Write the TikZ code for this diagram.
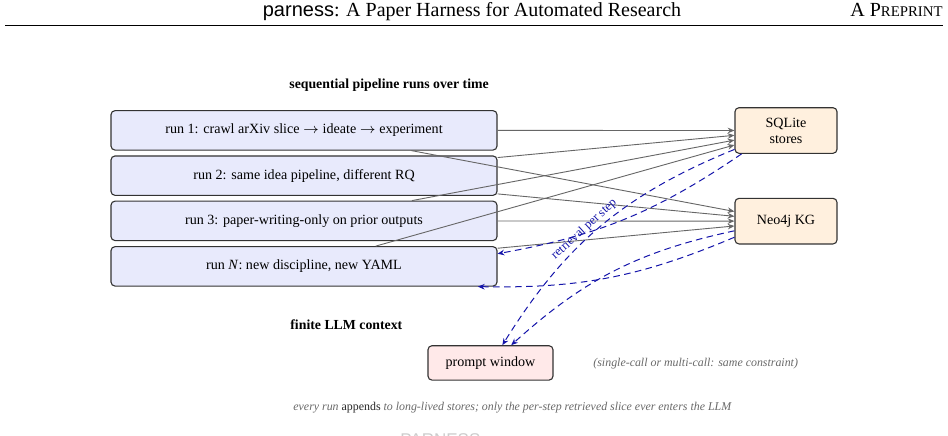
\documentclass[tikz,border=0pt]{standalone}
\usepackage{fontspec}
\setmainfont{Liberation Serif}
\newfontfamily\hsans{Liberation Sans}
\usetikzlibrary{arrows.meta}
\definecolor{runfill}{RGB}{232,234,252}
\definecolor{storefill}{RGB}{255,240,222}
\definecolor{promptfill}{RGB}{255,233,233}
\definecolor{edgeblue}{RGB}{20,20,170}
\definecolor{notegray}{RGB}{105,105,105}
\tikzset{
  boxbase/.style={draw=black!80, rounded corners=2pt, line width=0.55pt, inner sep=0pt,
    font=\fontsize{7.05}{7.9}\selectfont, align=center},
  runbox/.style={boxbase, fill=runfill, minimum width=193pt, minimum height=19.7pt},
  storebox/.style={boxbase, fill=storefill, minimum width=51pt, minimum height=22.8pt},
  promptbox/.style={boxbase, fill=promptfill, minimum width=62.5pt, minimum height=17.2pt},
  feed/.style={draw=black!60, line width=0.45pt, -{Stealth[length=3.4pt,width=2.8pt]}},
  ret/.style={draw=edgeblue, line width=0.5pt, dash pattern=on 3.3pt off 2.2pt,
    -{Stealth[length=3.4pt,width=2.8pt]}},
  boldlabel/.style={anchor=base west, inner sep=0pt, font=\fontsize{6.9}{8}\selectfont\bfseries},
  notetext/.style={inner sep=0pt, text=notegray, font=\fontsize{5.95}{7}\selectfont\itshape}
}
\begin{document}
\begin{tikzpicture}[x=0.5pt,y=0.5pt]
\useasboundingbox (0,0) rectangle (948,-435);
\fill[white] (0,0) rectangle (948,-435);

% page header
\node[anchor=base, inner sep=0pt, font=\fontsize{10}{12}\selectfont] (htitle) at (472,-16)
  {{\hsans parness}: A Paper Harness for Automated Research};
\node[anchor=base east, inner sep=0pt, font=\fontsize{10}{12}\selectfont] (hpre) at (943,-16)
  {A P{\fontsize{7.4}{9}\selectfont REPRINT}};
\coordinate (ruleL) at (5,-25.5);
\coordinate (ruleR) at (943,-25.5);
\draw[line width=0.45pt] (ruleL) -- (ruleR);

% labels
\node[boldlabel] (seqlab) at (289,-88.5) {sequential pipeline runs over time};
\node[boldlabel] (ctxlab) at (290,-329.5) {finite LLM context};

% run boxes
\node[runbox] (run1) at (304,-130.35) {run 1: crawl arXiv slice $\rightarrow$ ideate $\rightarrow$ experiment};
\node[runbox] (run2) at (304,-175.65) {run 2: same idea pipeline, different RQ};
\node[runbox] (run3) at (304,-220.85) {run 3: paper-writing-only on prior outputs};
\node[runbox] (runN) at (304,-266.35) {run \textit{N}: new discipline, new YAML};

% stores
\node[storebox] (sql) at (786,-130.5) {SQLite\\stores};
\node[storebox] (neo) at (786,-221.15) {Neo4j KG};

% prompt window
\node[promptbox] (prompt) at (490.5,-362.9) {prompt window};
\node[notetext, anchor=base west] (pnote) at (593,-366) {(single-call or multi-call: same constraint)};

% runs append to stores
\foreach \r in {run1,run2,run3,runN}{
  \draw[feed] (\r) -- (sql);
  \draw[feed] (\r) -- (neo);
}

% retrieval
\draw[ret] (sql) to[bend right=18] node[sloped, above, pos=0.55, inner sep=1.2pt,
  font=\fontsize{6.2}{7}\selectfont, text=edgeblue] (retlab) {retrieval per step} (prompt);
\draw[ret] (sql) to[bend left=12] (runN);
\draw[ret] (neo) to[bend right=15] (prompt);
\draw[ret] (neo) to[bend left=12] (runN);

% bottom note
\node[notetext, anchor=base west] (bnote) at (293,-410.5)
  {every run {\upshape\color{black!85}appends} to long-lived stores; only the per-step retrieved slice ever enters the LLM};

% cut-off footer text
\begin{scope}
\clip (0,0) rectangle (948,-435);
\node[anchor=north west, inner sep=0pt, text=black!20, font=\hsans\fontsize{8.5}{10}\selectfont] (foot) at (400,-433) {PARNESS};
\end{scope}
\end{tikzpicture}
\end{document}
